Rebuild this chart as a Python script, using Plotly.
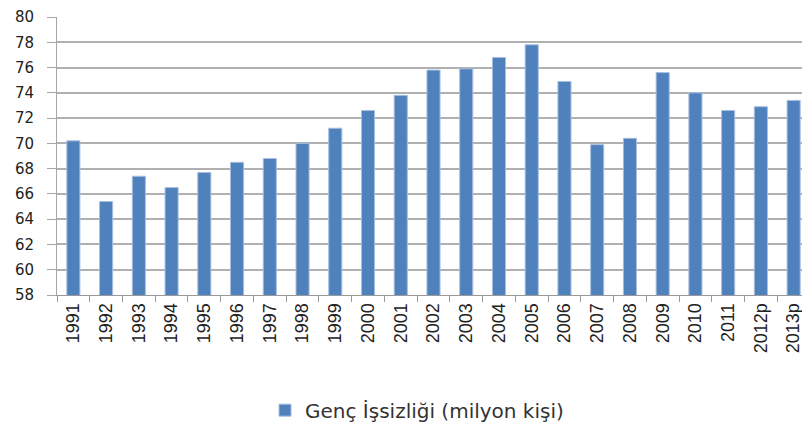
import plotly.graph_objects as go

years = ["1991", "1992", "1993", "1994", "1995", "1996", "1997", "1998", "1999", "2000",
         "2001", "2002", "2003", "2004", "2005", "2006", "2007", "2008", "2009", "2010",
         "2011", "2012p", "2013p"]
values = [70.2, 65.4, 67.4, 66.5, 67.7, 68.5, 68.8, 70.0, 71.2, 72.6,
          73.8, 75.8, 75.9, 76.8, 77.8, 74.9, 69.9, 70.4, 75.6, 74.0,
          72.6, 72.9, 73.4]
series_name = "Genç İşsizliği (milyon kişi)"
y_ticks = [58, 60, 62, 64, 66, 68, 70, 72, 74, 76, 78, 80]

fig = go.Figure(go.Bar(
    x=years, y=values, name=series_name,
    marker=dict(color="#4f81bd", line=dict(color="#a8bfe0", width=1)),
    showlegend=True,
))

fig.update_layout(
    width=802, height=415,
    margin=dict(l=49, r=0, t=5, b=128),
    paper_bgcolor="white", plot_bgcolor="white",
    bargap=0.6,
    showlegend=True,
    legend=dict(orientation="h", x=0.51, xanchor="center", xref="container",
                y=0.031, yanchor="middle", yref="container",
                itemwidth=30,
                font=dict(family="DejaVu Sans", size=20, color="#333333")),
    xaxis=dict(
        type="category", tickangle=-90, tickson="boundaries",
        ticks="outside", ticklen=6, tickcolor="#999999",
        showline=True, linecolor="#999999", linewidth=1,
        showgrid=False,
        tickfont=dict(family="Liberation Sans Narrow, Liberation Sans", size=18, color="#222222"),
    ),
    yaxis=dict(
        range=[58, 80], tickvals=y_ticks,
        ticks="outside", ticklen=9, tickcolor="#a6a6a6",
        ticklabelstandoff=10, ticklabeloverflow="allow",
        showline=True, linecolor="#a6a6a6", linewidth=1,
        showgrid=True, gridcolor="#b0b0b0", gridwidth=1.5,
        zeroline=False,
        tickfont=dict(family="DejaVu Sans", size=15, color="#222222"),
    ),
)

fig.write_html("out.html")
